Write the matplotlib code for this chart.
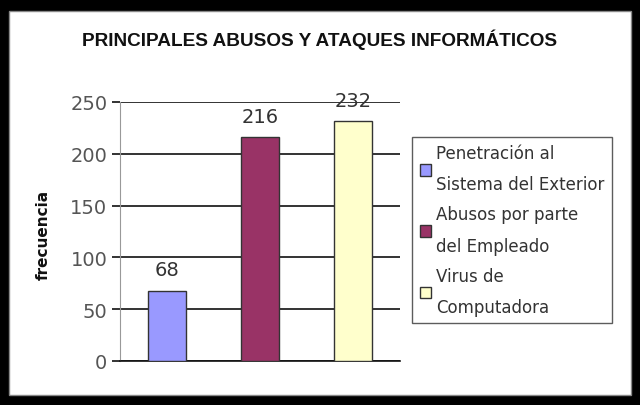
import matplotlib.pyplot as plt
from matplotlib.patches import Rectangle

# data
categorias = ['Penetración al\nSistema del Exterior',
              'Abusos por parte\ndel Empleado',
              'Virus de\nComputadora']
frecuencia = [68, 216, 232]
colores = ['#9999FF', '#993366', '#FFFFCC']
yticks = [0, 50, 100, 150, 200, 250]

plt.rcParams['font.family'] = ['DejaVu Sans']

fig = plt.figure(figsize=(6.4, 4.06), dpi=100, facecolor='black')
# white panel inside black frame
fig.patches.append(Rectangle((9 / 640, 1 - 396 / 406), 622 / 640, 384 / 406,
                             transform=fig.transFigure, facecolor='white',
                             edgecolor='#888888', linewidth=1, zorder=-5))

ax = fig.add_axes([120 / 640, 1 - 362 / 406, 280 / 640, 259 / 406], zorder=2)
ax.set_facecolor('white')
x = range(len(frecuencia))
bars = ax.bar(x, frecuencia, width=0.41, color=colores, edgecolor='#333333',
              linewidth=1, zorder=3)
for xi, v in zip(x, frecuencia):
    ax.annotate(str(v), (xi, v), xytext=(0, 8), textcoords='offset points',
                ha='center', va='bottom', fontsize=14, color='#333333')

ax.set_xlim(-0.5, 2.5)
ax.set_ylim(0, 250)
ax.set_yticks(yticks)
ax.set_xticks([])
ax.yaxis.grid(True, color='#111111', linewidth=1.2, zorder=0)
ax.set_axisbelow(True)
ax.tick_params(axis='y', length=6, width=1.2, color='#111111',
               labelsize=14, labelcolor='#555555', pad=3)
for s in ['top', 'right']:
    ax.spines[s].set_visible(False)
ax.spines['left'].set_color('#999999')
ax.spines['bottom'].set_color('#111111')
ax.spines['bottom'].set_linewidth(1.2)

fig.text(320 / 640, 1 - 40 / 406, 'PRINCIPALES ABUSOS Y ATAQUES INFORMÁTICOS',
         ha='center', va='center', fontsize=13.7, fontweight='bold',
         family=['Liberation Sans', 'DejaVu Sans'], color='#111111', zorder=3)
fig.text(43 / 640, 1 - 235 / 406, 'frecuencia', rotation=90, ha='center',
         va='center', fontsize=11, fontweight='bold', color='#111111', zorder=3)

leg = fig.legend(bars, categorias, loc='center left',
                 bbox_to_anchor=(412 / 640, 1 - 231 / 406), borderaxespad=0,
                 fontsize=12, labelcolor='#333333', frameon=True,
                 fancybox=False, handlelength=0.7, handleheight=0.7,
                 handletextpad=0.3, labelspacing=0.72, borderpad=0.45)
leg.set_zorder(4)
leg.get_frame().set_edgecolor('#333333')
leg.get_frame().set_linewidth(1)
for t in leg.get_texts():
    t.set_linespacing(1.95)

fig.savefig('out.png', dpi=100, facecolor='black')
